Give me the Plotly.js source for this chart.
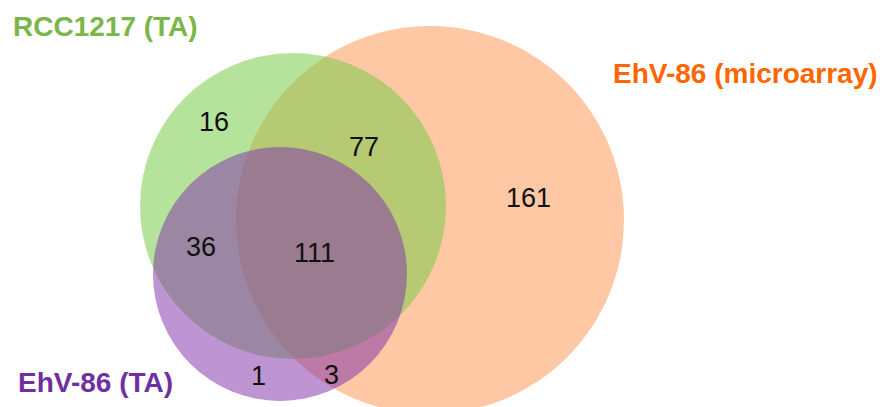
<!DOCTYPE html>
<html>
<head>
<meta charset="utf-8">
<script src="https://cdn.plot.ly/plotly-3.0.1.min.js"></script>
<style>html,body{margin:0;padding:0;background:#fff;}#chart{width:880px;height:407px;}</style>
</head>
<body>
<div id="chart"></div>
<script>
// Set names
var setNames = ["RCC1217 (TA)", "EhV-86 (microarray)", "EhV-86 (TA)"];
// Region labels and counts
var regionNames = ["RCC1217 only", "RCC1217 & microarray", "microarray only", "RCC1217 & EhV TA", "all three", "EhV TA only", "microarray & EhV TA"];
var regionCounts = [16, 77, 161, 36, 111, 1, 3];

// Layout geometry (pixel-like coordinate space)
var circles = [
  {set: 1, cx: 430, cy: 220, r: 194, fill: "rgb(254,200,164)"},
  {set: 0, cx: 293, cy: 206, r: 153, fill: "rgba(120,204,74,0.55)"},
  {set: 2, cx: 280, cy: 274, r: 127, fill: "rgba(132,53,170,0.53)"}
];
var regionPos = [[214,122],[364,147],[528,198],[201,247],[314,253],[258,376],[331,375]];
var labelPos = [
  {x: 12, y: 26, color: "#7ab648", anchor: "left"},
  {x: 612, y: 73, color: "#ff6600", anchor: "left"},
  {x: 17, y: 382, color: "#7030a0", anchor: "left"}
];

var shapes = circles.map(function(c){
  return {type: "circle", xref: "x", yref: "y",
    x0: c.cx - c.r, x1: c.cx + c.r, y0: c.cy - c.r, y1: c.cy + c.r,
    fillcolor: c.fill, line: {width: 0}, layer: "above"};
});

var annotations = [];
regionCounts.forEach(function(v, i){
  annotations.push({x: regionPos[i][0], y: regionPos[i][1], xref: "x", yref: "y",
    text: String(v), showarrow: false, xanchor: "center", yanchor: "middle",
    font: {family: "Liberation Sans, Arial, sans-serif", size: 27, color: "#111"}});
});
setNames.forEach(function(n, i){
  var p = labelPos[i];
  annotations.push({x: p.x, y: p.y, xref: "x", yref: "y", text: "<b>" + n + "</b>",
    showarrow: false, xanchor: p.anchor, yanchor: "middle", borderpad: 0,
    font: {family: "Liberation Sans, Arial, sans-serif", size: 28, color: p.color}});
});

var layout = {
  width: 880, height: 407,
  margin: {l: 0, r: 0, t: 0, b: 0},
  paper_bgcolor: "#fff", plot_bgcolor: "#fff",
  showlegend: false,
  xaxis: {range: [0, 880], visible: false, fixedrange: true},
  yaxis: {range: [407, 0], visible: false, fixedrange: true},
  shapes: shapes,
  annotations: annotations
};

Plotly.newPlot("chart", [{x: [], y: [], type: "scatter", hoverinfo: "skip"}], layout, {displayModeBar: false, staticPlot: true});
</script>
</body>
</html>
